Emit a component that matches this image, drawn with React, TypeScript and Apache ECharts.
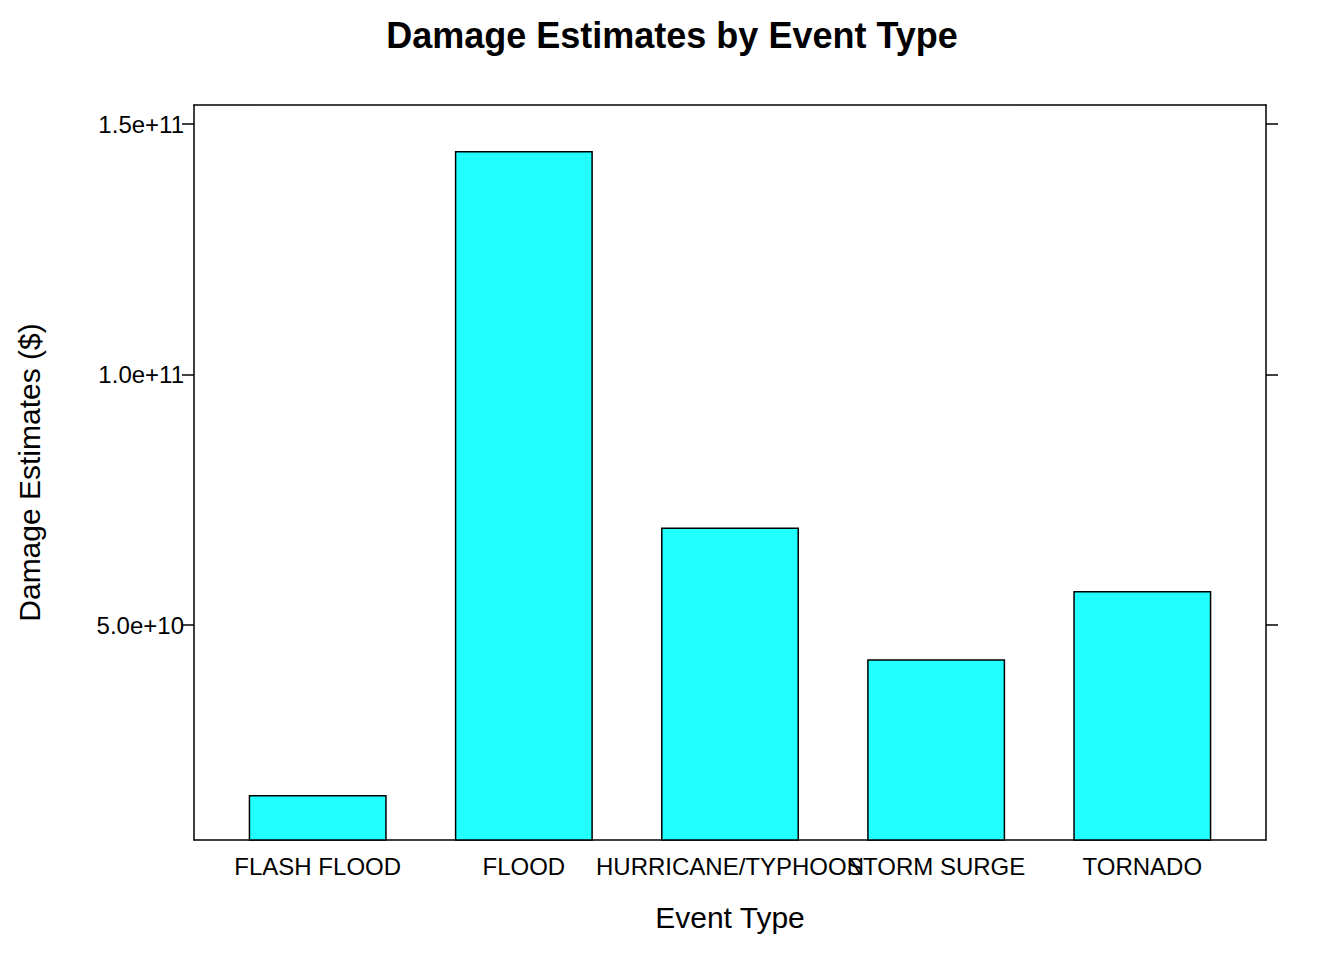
import React, { useEffect, useRef } from "react";
import * as echarts from "echarts";

const categories = ["FLASH FLOOD", "FLOOD", "HURRICANE/TYPHOON", "STORM SURGE", "TORNADO"];
const damage = [1.607e10, 1.446e11, 6.946e10, 4.32e10, 5.68e10];
const yTicks = [5e10, 1e11, 1.5e11];
const yTickLabels = ["5.0e+10", "1.0e+11", "1.5e+11"];

export default function App() {
  const ref = useRef<HTMLDivElement>(null);
  useEffect(() => {
    const chart = echarts.init(ref.current!, null, { renderer: "svg" });
    const font = "Liberation Sans, Arial, sans-serif";
    const yCommon = {
      type: "value",
      min: 0.71e10,
      max: 1.538e11,
      splitLine: { show: false },
      axisLine: { show: true, onZero: false, lineStyle: { color: "#000", width: 1.5 } },
      axisTick: { show: true, length: 12, customValues: yTicks, lineStyle: { color: "#000", width: 1.5 } },
    };
    chart.setOption({
      animation: false,
      backgroundColor: "#fff",
      title: {
        text: "Damage Estimates by Event Type",
        left: "center",
        top: 12,
        textStyle: { fontFamily: font, fontSize: 36, fontWeight: "bold", color: "#000" },
      },
      grid: { left: 194, top: 105, width: 1072, height: 735, show: false },
      xAxis: [
        {
          type: "value",
          min: -0.6,
          max: 4.6,
          splitLine: { show: false },
          axisLine: { show: true, onZero: false, lineStyle: { color: "#000", width: 1.5 } },
          axisTick: { show: false },
          axisLabel: {
            customValues: [0, 1, 2, 3, 4],
            formatter: (v: number) => categories[Math.round(v)],
            fontFamily: font,
            fontSize: 24,
            color: "#000",
            margin: 14,
            hideOverlap: false,
          },
          name: "Event Type",
          nameLocation: "middle",
          nameGap: 62,
          nameTextStyle: { fontFamily: font, fontSize: 30, color: "#000" },
        },
        {
          type: "value",
          position: "top",
          min: -0.6,
          max: 4.6,
          splitLine: { show: false },
          axisLine: { show: true, onZero: false, lineStyle: { color: "#000", width: 1.5 } },
          axisTick: { show: false },
          axisLabel: { show: false },
        },
      ],
      yAxis: [
        {
          ...yCommon,
          position: "left",
          axisLabel: {
            customValues: yTicks,
            formatter: (v: number) => yTickLabels[yTicks.indexOf(v)] ?? "",
            fontFamily: font,
            fontSize: 24,
            color: "#000",
            margin: 10,
          },
          name: "Damage Estimates ($)",
          nameLocation: "middle",
          nameGap: 150,
          nameTextStyle: { fontFamily: font, fontSize: 30, color: "#000" },
        },
        { ...yCommon, position: "right", axisLabel: { show: false } },
      ],
      series: [
        {
          type: "bar",
          barWidth: 138,
          data: damage.map((v, i) => [i, v]),
          itemStyle: { color: "#22FFFF", borderColor: "#000", borderWidth: 1.5 },
        },
      ],
    });
    return () => chart.dispose();
  }, []);
  return <div ref={ref} style={{ position: "absolute", left: 0, top: 0, width: 1344, height: 960 }} />;
}
